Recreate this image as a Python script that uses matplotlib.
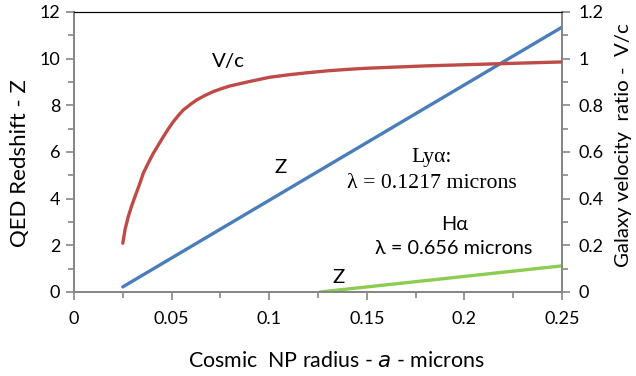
import matplotlib
matplotlib.use("Agg")
import matplotlib.pyplot as plt
from matplotlib.ticker import MultipleLocator

# ---------------- data ----------------
a_lya = [0.025, 0.25]
z_lya = [0.22, 11.35]

a_ha = [0.126, 0.25]
z_ha = [0.0, 1.12]

a_v = [0.025, 0.0262, 0.0278, 0.0295, 0.0312, 0.0335, 0.0355, 0.038, 0.0406,
       0.0432, 0.0458, 0.0484, 0.0509, 0.0535, 0.056, 0.0595, 0.0628, 0.067,
       0.0714, 0.0757, 0.0799, 0.0893, 0.10, 0.11, 0.12, 0.13, 0.14, 0.15,
       0.165, 0.18, 0.20, 0.225, 0.25]
v_c = [0.209, 0.270, 0.323, 0.368, 0.408, 0.460, 0.509, 0.552, 0.594,
       0.630, 0.666, 0.700, 0.730, 0.757, 0.780, 0.803, 0.823, 0.842,
       0.859, 0.872, 0.883, 0.901, 0.920, 0.931, 0.940, 0.948, 0.954, 0.959,
       0.964, 0.969, 0.974, 0.980, 0.986]

left_ticks = [0, 2, 4, 6, 8, 10, 12]
right_ticks = [0, 0.2, 0.4, 0.6, 0.8, 1.0, 1.2]
right_labels = ["0", "0.2", "0.4", "0.6", "0.8", "1", "1.2"]
x_ticks = [0, 0.05, 0.1, 0.15, 0.2, 0.25]
x_labels = ["0", "0.05", "0.1", "0.15", "0.2", "0.25"]

FONT = "Lato"
plt.rcParams['font.family'] = [FONT, 'DejaVu Sans']

W, H = 636, 376
fig = plt.figure(figsize=(W/100, H/100), dpi=100)
ax = fig.add_axes([74/W, 1-292/H, (562-74)/W, (292-12)/H])
ax2 = ax.twinx()

blue = "#4A7EBB"
red = "#BE4B48"
green = "#8CCC50"
gray = "#868686"

ax.plot(a_lya, z_lya, color=blue, lw=2.4, solid_capstyle='round', zorder=3)
ax.plot(a_ha, z_ha, color=green, lw=2.4, solid_capstyle='round', zorder=3)
ax2.plot(a_v, v_c, color=red, lw=2.4, solid_capstyle='round',
         solid_joinstyle='round', zorder=3)

ax.set_xlim(0, 0.25)
ax.set_ylim(0, 12)
ax2.set_ylim(0, 1.2)

ax.set_xticks(x_ticks)
ax.set_xticklabels(x_labels)
ax.set_yticks(left_ticks)
ax.set_yticklabels([str(t) for t in left_ticks])
ax2.set_yticks(right_ticks)
ax2.set_yticklabels(right_labels)
ax.xaxis.set_minor_locator(MultipleLocator(0.025))
ax.yaxis.set_minor_locator(MultipleLocator(1))
ax2.yaxis.set_minor_locator(MultipleLocator(0.1))

for a_ in (ax, ax2):
    for s in ("left", "right", "bottom"):
        a_.spines[s].set_color(gray)
        a_.spines[s].set_linewidth(1.4)
    a_.spines["top"].set_color("black")
    a_.spines["top"].set_linewidth(0.8)

TICK_FS = 13
ax.tick_params(axis='both', which='major', direction='out', length=6, width=1.2,
               color=gray, labelsize=TICK_FS)
ax.tick_params(axis='both', which='minor', direction='out', length=4, width=1.2,
               color=gray)
ax2.tick_params(axis='y', which='major', direction='out', length=6, width=1.2,
                color=gray, labelsize=TICK_FS, pad=6)
ax2.tick_params(axis='y', which='minor', direction='out', length=4, width=1.2,
                color=gray)
ax.tick_params(axis='x', pad=8)
ax.tick_params(axis='y', pad=4)


def px(x, y):
    return x / W, 1 - y / H


renderer = fig.canvas.get_renderer()


def fit(t, target, vertical=False):
    for _ in range(3):
        bb = t.get_window_extent(renderer)
        size = bb.height if vertical else bb.width
        t.set_fontsize(t.get_fontsize() * target / size)


# axis titles
ylab = fig.text(*px(20, 163.5), "QED Redshift - Z", rotation=90,
                ha='center', va='center', fontsize=14)
fit(ylab, 167, vertical=True)
y2lab = fig.text(*px(624, 145), "Galaxy velocity  ratio -  V/c", rotation=90,
                 ha='center', va='center', fontsize=14)
fit(y2lab, 244, vertical=True)
# keep the right title just inside the figure edge
bb = y2lab.get_window_extent(renderer)
if bb.x1 > W - 1:
    x0, y0 = y2lab.get_position()
    y2lab.set_position((x0 - (bb.x1 - (W - 1)) / W, y0))
xlab = fig.text(*px(336, 361), r"Cosmic  NP radius - $\mathit{a}$ - microns",
                ha='center', va='center', fontsize=14)
fit(xlab, 298)

# annotations
t_vc = fig.text(*px(228, 61.5), "V/c", ha='center', va='center', fontsize=13)
fit(t_vc, 33)
fs_ann = t_vc.get_fontsize()
fig.text(*px(280.5, 167.5), "Z", ha='center', va='center', fontsize=fs_ann)
fig.text(*px(339, 277.5), "Z", ha='center', va='center', fontsize=fs_ann)

t_l1 = fig.text(*px(432, 183), "\u03bb = 0.1217 microns", ha='center',
                va='center', fontsize=14, family='Liberation Serif')
fit(t_l1, 169)
fig.text(*px(432, 157), "Ly\u03b1:", ha='center', va='center',
         fontsize=t_l1.get_fontsize(), family='Liberation Serif')

t_l2 = fig.text(*px(454, 249), "\u03bb = 0.656 microns", ha='center',
                va='center', fontsize=14)
fit(t_l2, 157)
fig.text(*px(455, 224), "H\u03b1", ha='center', va='center',
         fontsize=t_l2.get_fontsize(), family=[FONT, 'DejaVu Sans'])

fig.savefig("out.png", dpi=100)
